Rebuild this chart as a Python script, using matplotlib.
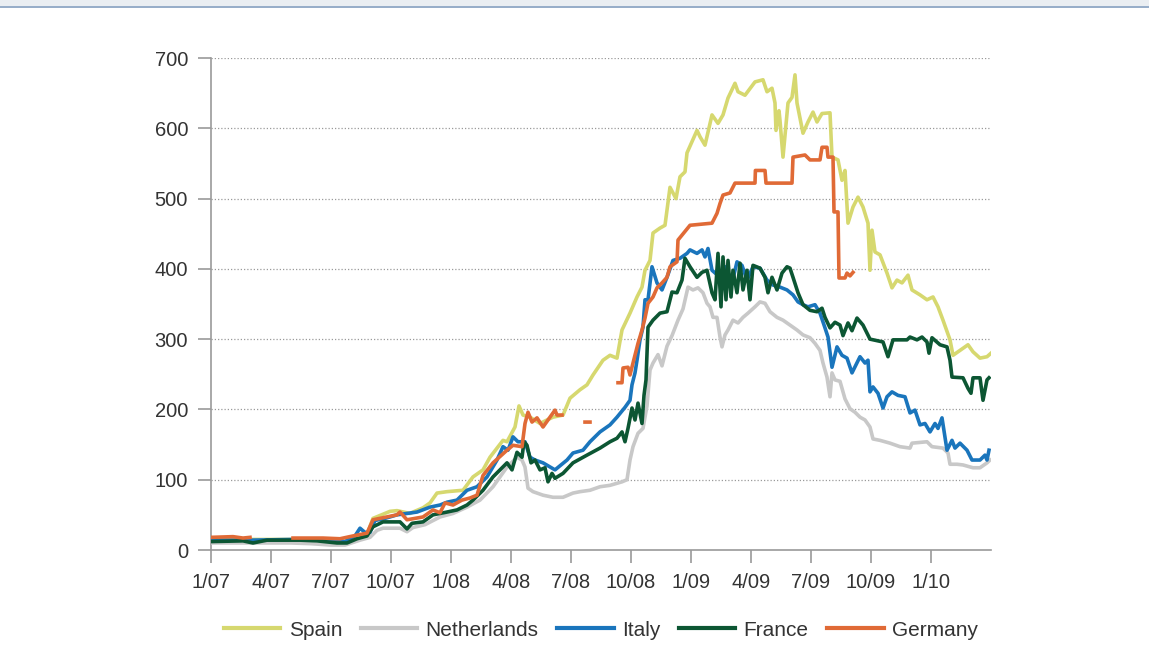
import numpy as np
import matplotlib
matplotlib.use("Agg")
import matplotlib.pyplot as plt
from matplotlib import font_manager
from matplotlib.lines import Line2D

# ---------------- data (x = months since Jan 2007) ----------------
tick_pos = [0, 3, 6, 9, 12, 15, 18, 21, 24, 27, 30, 33, 36]
tick_labels = ["1/07", "4/07", "7/07", "10/07", "1/08", "4/08", "7/08",
               "10/08", "1/09", "4/09", "7/09", "10/09", "1/10"]
y_ticks = [0, 100, 200, 300, 400, 500, 600, 700]

spain_x = [0, 2.0, 4.0, 6.0, 6.7, 7.3, 7.8, 8.1, 8.95, 9.3, 9.95, 10.1, 10.6, 10.95, 11.3, 11.8,
           12.6, 13.1, 13.6, 13.95, 14.6, 14.8, 15.2, 15.4, 15.6, 15.95, 16.45, 16.8, 17.1, 17.6,
           17.95, 18.45, 18.8, 19.1, 19.6, 19.95, 20.3, 20.55, 20.95, 21.3, 21.55, 21.7, 21.95,
           22.1, 22.45, 22.7, 22.95, 23.25, 23.45, 23.7, 23.8, 24.3, 24.45, 24.7, 25.05, 25.35,
           25.6, 25.85, 26.2, 26.35, 26.7, 27.2, 27.6, 27.8, 28.05, 28.2, 28.25, 28.4, 28.45,
           28.6, 28.85, 29.05, 29.2, 29.3, 29.6, 29.85, 30.1, 30.3, 30.55, 30.95, 31.05, 31.35,
           31.55, 31.7, 31.85, 32.1, 32.35, 32.6, 32.85, 32.95, 33.05, 33.2, 33.45, 33.8, 34.05,
           34.3, 34.55, 34.85, 35.05, 35.45, 35.8, 36.1, 36.35, 36.6, 36.95, 37.1, 37.45, 37.85,
           38.1, 38.45, 38.8, 39.0]
spain_v = [14, 15, 15, 14, 12, 18, 22, 45, 55, 56, 52, 54, 60, 67, 81, 83,
           85, 104, 114, 132, 156, 154, 175, 205, 192, 189, 180, 185, 189, 192,
           216, 228, 235, 249, 270, 277, 273, 313, 337, 360, 374, 398, 412,
           451, 458, 462, 516, 500, 531, 538, 565, 597, 588, 576, 619, 607,
           619, 643, 664, 652, 647, 666, 669, 652, 657, 636, 597, 625, 611,
           559, 636, 644, 676, 636, 593, 609, 623, 609, 621, 622, 559, 555,
           526, 540, 465, 488, 502, 488, 465, 398, 455, 424, 420, 394, 373,
           384, 380, 391, 370, 363, 356, 360, 346, 327, 299, 277, 284, 292,
           282, 273, 275, 280]

neth_x = [0, 2, 4, 5, 6, 6.7, 7.45, 7.95, 8.3, 8.6, 9.45, 9.8, 10.1, 10.7, 11.45, 12.1, 12.8,
          13.45, 14.1, 14.8, 15.3, 15.55, 15.7, 15.85, 16.1, 16.6, 17.1, 17.6, 18.1, 18.45,
          18.95, 19.45, 19.95, 20.55, 20.8, 20.95, 21.1, 21.35, 21.6, 21.8, 21.95, 22.1, 22.35,
          22.55, 22.8, 23.05, 23.35, 23.6, 23.85, 24.1, 24.35, 24.6, 24.8, 24.95, 25.1, 25.3,
          25.45, 25.55, 25.7, 25.85, 26.1, 26.35, 26.6, 26.85, 27.2, 27.45, 27.7, 27.95, 28.3,
          28.6, 28.95, 29.3, 29.6, 29.95, 30.2, 30.45, 30.6, 30.8, 30.95, 31.05, 31.2, 31.45,
          31.7, 31.95, 32.2, 32.45, 32.7, 32.95, 33.1, 33.45, 33.95, 34.45, 34.95, 35.05, 35.8,
          36.05, 36.6, 36.85, 36.95, 37.3, 37.6, 38.1, 38.45, 38.8, 38.95]
neth_v = [10, 10, 10, 9, 7, 7, 14, 18, 28, 31, 31, 26, 32, 36, 47, 52, 61,
          71, 90, 118, 132, 128, 118, 88, 83, 78, 75, 75, 81, 83,
          85, 90, 92, 97, 100, 128, 147, 166, 173, 205, 256, 266, 278,
          262, 290, 305, 327, 343, 374, 370, 373, 366, 351, 346, 331, 331,
          303, 289, 306, 313, 327, 323, 331, 337, 346, 353, 351, 339, 331,
          327, 320, 313, 306, 302, 294, 284, 266, 246, 218, 252, 242, 240,
          215, 201, 196, 189, 185, 175, 158, 156, 152, 147, 145, 152, 154,
          147, 145, 138, 122, 122, 121, 117, 117, 124, 128]

italy_x = [0, 2, 4, 6, 6.7, 7.2, 7.45, 7.7, 7.95, 8.2, 8.7, 9.3, 10.3, 10.95, 11.45, 11.8, 12.3,
           12.8, 13.3, 13.8, 14.3, 14.6, 14.85, 15.1, 15.35, 15.7, 15.95, 16.2, 16.6, 17.2, 17.8,
           18.1, 18.6, 18.95, 19.45, 19.95, 20.3, 20.7, 20.95, 21.05, 21.2, 21.3, 21.45, 21.6,
           21.7, 21.85, 22.05, 22.3, 22.55, 22.8, 23.1, 23.45, 23.8, 23.95, 24.3, 24.55, 24.7,
           24.85, 25.05, 25.45, 25.7, 26.05, 26.3, 26.55, 26.8, 27.1, 27.45, 27.8, 28.1, 28.45,
           28.8, 29.1, 29.35, 29.6, 29.85, 30.2, 30.45, 30.7, 30.85, 31.05, 31.3, 31.55, 31.8,
           32.05, 32.45, 32.7, 32.85, 32.95, 33.1, 33.35, 33.6, 33.8, 34.05, 34.35, 34.7, 34.95,
           35.2, 35.45, 35.7, 35.95, 36.2, 36.35, 36.55, 36.8, 37.05, 37.2, 37.45, 37.8, 38.05,
           38.45, 38.7, 38.8, 38.9]
italy_v = [14, 14, 15, 14, 12, 20, 31, 25, 25, 42, 45, 50, 54, 61, 64, 68, 71,
           85, 90, 104, 128, 147, 142, 161, 154, 154, 132, 128, 124, 114, 128,
           138, 142, 154, 168, 178, 189, 203, 213, 235, 252, 270, 299, 317,
           356, 356, 403, 380, 370, 388, 412, 415, 422, 427, 422, 427, 417,
           429, 398, 388, 403, 380, 410, 405, 384, 403, 401, 384, 377, 374,
           370, 363, 353, 349, 346, 349, 337, 316, 303, 260, 289, 277, 273,
           252, 275, 266, 270, 225, 232, 223, 202, 218, 225, 220, 218, 195,
           199, 178, 180, 168, 180, 173, 188, 142, 156, 145, 152, 142, 128,
           128, 135, 128, 142]

france_x = [0, 1.6, 2.1, 2.8, 4.45, 5.3, 6.3, 6.8, 7.3, 7.8, 8.1, 8.6, 9.45, 9.8, 10.05, 10.6,
            11.1, 11.8, 12.3, 12.8, 13.1, 13.6, 14.1, 14.45, 14.8, 15.05, 15.3, 15.55, 15.65,
            15.8, 16.0, 16.2, 16.45, 16.7, 16.85, 17.05, 17.2, 17.6, 18.1, 18.8, 19.45, 19.95,
            20.3, 20.55, 20.7, 20.85, 21.05, 21.2, 21.35, 21.55, 21.65, 21.75, 21.85, 22.1, 22.45,
            22.8, 23.05, 23.3, 23.55, 23.7, 23.95, 24.3, 24.55, 24.8, 25.05, 25.2, 25.35, 25.5,
            25.6, 25.75, 25.85, 26.0, 26.1, 26.3, 26.45, 26.6, 26.8, 26.95, 27.1, 27.45, 27.7,
            27.85, 28.05, 28.3, 28.55, 28.8, 28.95, 29.1, 29.35, 29.6, 29.95, 30.3, 30.55, 30.7,
            30.95, 31.2, 31.45, 31.6, 31.85, 32.05, 32.3, 32.6, 32.95, 33.6, 33.85, 34.1, 34.8,
            34.95, 35.3, 35.55, 35.8, 35.9, 36.05, 36.45, 36.8, 36.95, 37.05, 37.6, 37.85, 38.0,
            38.1, 38.45, 38.6, 38.8, 38.9]
france_v = [12, 13, 10, 14, 14, 13, 10, 10, 16, 20, 33, 40, 40, 30, 38, 40,
            50, 54, 57, 64, 71, 85, 104, 114, 124, 114, 139, 132, 154,
            149, 124, 128, 114, 117, 97, 109, 102, 109, 124, 135, 145, 154,
            159, 168, 154, 173, 202, 185, 209, 180, 220, 242, 317, 327, 337,
            339, 367, 366, 384, 415, 403, 388, 395, 398, 366, 356, 422, 346,
            417, 356, 412, 360, 398, 366, 408, 370, 398, 356, 405, 401, 388,
            366, 388, 370, 394, 403, 401, 388, 366, 349, 341, 339, 344, 331,
            316, 324, 320, 305, 323, 312, 330, 320, 300, 296, 275, 299, 299,
            303, 299, 303, 296, 280, 302, 292, 289, 270, 246, 245, 230, 223,
            245, 245, 213, 242, 245]

germany_x = [0, 1.1, 1.6, 1.95, 2.0, 4.05, 4.1, 5.6, 6.45, 7.1, 7.8, 8.1, 9.3, 9.45, 9.8, 10.6,
             11.1, 11.45, 11.7, 12.1, 12.55, 12.95, 13.3, 13.6, 14.1, 14.8, 15.1, 15.55, 15.7,
             15.85, 16.05, 16.3, 16.6, 16.95, 17.2, 17.3, 17.55, 17.6, 18.65, 18.7, 18.95, 19.0,
             20.3, 20.35, 20.55, 20.6, 20.85, 20.95, 21.1, 21.35, 21.55, 21.7, 21.85, 22.1, 22.3,
             22.55, 22.8, 22.95, 23.3, 23.35, 23.95, 25.05, 25.3, 25.45, 25.6, 25.95, 26.2, 27.2,
             27.22, 27.7, 27.75, 29.05, 29.1, 29.7, 29.95, 30.45, 30.55, 30.8, 30.85, 31.1, 31.15,
             31.35, 31.4, 31.7, 31.8, 31.95, 32.1]
germany_v = [18, 19, 17, 18, np.nan, np.nan, 17, 17, 16, 20, 24, 43, 50, 54, 43, 47,
             57, 53, 67, 64, 71, 74, 78, 106, 124, 142, 149, 147, 180,
             196, 182, 188, 175, 189, 199, 192, 192, np.nan, np.nan, 182, 182, np.nan,
             np.nan, 238, 238, 259, 260, 249, 266, 294, 313, 330, 351, 360, 373,
             380, 388, 403, 410, 441, 462, 465, 479, 493, 505, 508, 522, 522,
             540, 540, 522, 522, 559, 562, 555, 555, 573, 573, 559, 559, 481,
             481, 387, 387, 394, 390, 395]

# ---------------- style ----------------
names = {f.name for f in font_manager.fontManager.ttflist}
FONT = "Liberation Sans Narrow" if "Liberation Sans Narrow" in names else "Liberation Sans"
plt.rcParams["font.family"] = [FONT, "DejaVu Sans"]
TXT = "#333333"
AX = "#9a9a9a"

col_spain = "#d6d86f"
col_neth = "#c8c8c8"
col_italy = "#1a75bc"
col_france = "#0c5633"
col_germany = "#e06a36"
LW = 2.6

fig = plt.figure(figsize=(11.49, 6.68), dpi=100)
fig.patch.set_facecolor("white")

# top band
fig.patches.append(plt.Rectangle((0, 1 - 6 / 668), 1, 6 / 668, transform=fig.transFigure,
                                 facecolor="#eaeef2", edgecolor="none", zorder=0))
fig.lines.append(Line2D([0, 1], [1 - 6.5 / 668, 1 - 6.5 / 668], transform=fig.transFigure,
                        color="#8ea6c4", lw=1.3))

ax = fig.add_axes([211 / 1149, 1 - 550 / 668, (991 - 211) / 1149, (550 - 58) / 668])

ax.plot(neth_x, neth_v, color=col_neth, lw=LW, zorder=3, solid_joinstyle="round")
ax.plot(spain_x, spain_v, color=col_spain, lw=LW, zorder=3, solid_joinstyle="round")
ax.plot(italy_x, italy_v, color=col_italy, lw=LW, zorder=4, solid_joinstyle="round")
ax.plot(france_x, france_v, color=col_france, lw=LW, zorder=5, solid_joinstyle="round")
ax.plot(germany_x, germany_v, color=col_germany, lw=LW, zorder=6, solid_joinstyle="round")

ax.set_xlim(0, 39)
ax.set_ylim(0, 700)
ax.set_xticks(tick_pos)
ax.set_xticklabels(tick_labels)
ax.set_yticks(y_ticks)
ax.set_yticklabels([str(v) for v in y_ticks])

for v in y_ticks[1:]:
    ax.axhline(v, color="#9a9a9a", lw=0.9, ls=(0, (1, 1.6)), zorder=1)

for s in ["top", "right"]:
    ax.spines[s].set_visible(False)
for s in ["left", "bottom"]:
    ax.spines[s].set_color(AX)
    ax.spines[s].set_linewidth(1.2)

ax.tick_params(axis="both", direction="out", length=9.5, width=1.2, color=AX,
               labelsize=14.5, labelcolor=TXT, pad=7)
ax.set_facecolor("white")

handles = [Line2D([], [], color=c, lw=3) for c in
           [col_spain, col_neth, col_italy, col_france, col_germany]]
labels = ["Spain", "Netherlands", "Italy", "France", "Germany"]
fig.legend(handles, labels, loc="center", bbox_to_anchor=(601 / 1149, 1 - 630 / 668),
           ncol=5, frameon=False, fontsize=15, handlelength=2.7, handletextpad=0.4,
           columnspacing=0.9, labelcolor=TXT)

fig.savefig("out.png", dpi=100, facecolor="white")
